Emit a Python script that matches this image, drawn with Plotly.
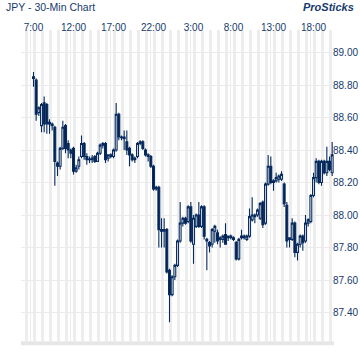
import plotly.graph_objects as go

title_text = "JPY - 30-Min Chart"
brand_text = "ProSticks"

open_ = [88.85, 88.83, 88.63, 88.55, 88.69, 88.68, 88.56, 88.56, 88.54, 88.32,
         88.30, 88.41, 88.55, 88.44, 88.40, 88.41, 88.27, 88.30, 88.36, 88.44,
         88.36, 88.34, 88.34, 88.36, 88.33, 88.38, 88.43, 88.44, 88.35, 88.36,
         88.36, 88.40, 88.62, 88.48, 88.48,
         88.45, 88.41, 88.37, 88.35, 88.36, 88.44, 88.45, 88.40, 88.37, 88.36,
         88.30, 88.17, 88.17, 87.91, 87.90, 87.91, 87.66, 87.51, 87.62, 87.69,
         87.84, 87.95, 87.98, 87.96, 88.05, 87.82, 87.93, 88.00, 87.93, 88.05,
         87.85, 87.83, 87.82, 87.90, 87.89,
         87.85, 87.85, 87.88, 87.86, 87.87, 87.86, 87.83, 87.73, 87.86, 87.87,
         87.85, 87.87, 87.97, 87.99, 88.00, 87.98, 88.08, 87.95, 88.19, 88.30,
         88.20, 88.21, 88.22, 88.22, 88.19, 88.06, 87.85, 87.85, 87.95,
         87.77, 87.82, 87.87, 87.84, 87.95, 87.96, 88.12, 88.23, 88.33, 88.20,
         88.33, 88.26, 88.33, 88.26]
high = [88.88, 88.84, 88.67, 88.69, 88.73, 88.69, 88.59, 88.57, 88.55, 88.33,
        88.42, 88.58, 88.56, 88.46, 88.41, 88.42, 88.31, 88.36, 88.49, 88.45,
        88.38, 88.36, 88.37, 88.37, 88.39, 88.44, 88.45, 88.45, 88.37, 88.38,
        88.41, 88.69, 88.63, 88.49, 88.52,
        88.52, 88.42, 88.38, 88.36, 88.45, 88.46, 88.46, 88.41, 88.38, 88.37,
        88.31, 88.18, 88.18, 87.98, 87.98, 87.92, 87.67, 87.63, 87.70, 87.85,
        88.08, 87.99, 87.99, 88.06, 88.08, 88.00, 88.01, 88.08, 88.06, 88.06,
        87.86, 87.84, 87.92, 87.94, 87.91,
        87.87, 87.88, 87.95, 87.87, 87.88, 87.87, 87.84, 87.86, 87.91, 87.88,
        87.88, 88.04, 88.11, 88.01, 88.04, 88.08, 88.09, 88.20, 88.37, 88.36,
        88.22, 88.26, 88.25, 88.27, 88.20, 88.08, 87.86, 87.98, 87.96,
        87.83, 87.88, 87.88, 88.00, 87.98, 88.13, 88.26, 88.35, 88.34, 88.34,
        88.34, 88.42, 88.36, 88.45]
low = [88.79, 88.58, 88.61, 88.51, 88.51, 88.50, 88.50, 88.52, 88.18, 88.24,
       88.28, 88.40, 88.38, 88.35, 88.35, 88.25, 88.26, 88.28, 88.35, 88.34,
       88.31, 88.32, 88.32, 88.32, 88.33, 88.37, 88.41, 88.32, 88.33, 88.35,
       88.35, 88.39, 88.46, 88.46, 88.40,
       88.37, 88.30, 88.33, 88.32, 88.35, 88.43, 88.40, 88.36, 88.33, 88.29,
       88.15, 88.15, 87.80, 87.80, 87.80, 87.64, 87.34, 87.50, 87.60, 87.68,
       87.83, 87.93, 87.94, 87.95, 87.83, 87.70, 87.92, 87.92, 87.92, 87.85,
       87.66, 87.77, 87.80, 87.83, 87.82,
       87.80, 87.83, 87.83, 87.84, 87.85, 87.84, 87.72, 87.72, 87.85, 87.85,
       87.84, 87.86, 87.96, 87.95, 87.99, 87.97, 87.92, 87.94, 88.18, 88.19,
       88.15, 88.20, 88.20, 88.21, 88.05, 87.80, 87.80, 87.84, 87.74,
       87.72, 87.80, 87.78, 87.83, 87.93, 87.95, 88.11, 88.20, 88.19, 88.18,
       88.25, 88.24, 88.27, 88.24]
close = [88.84, 88.62, 88.66, 88.68, 88.56, 88.56, 88.57, 88.55, 88.33, 88.30,
         88.41, 88.54, 88.41, 88.40, 88.38, 88.27, 88.29, 88.34, 88.44, 88.36,
         88.34, 88.345, 88.35, 88.33, 88.38, 88.43, 88.44, 88.34, 88.37, 88.37,
         88.40, 88.62, 88.48, 88.475, 88.47,
         88.40, 88.37, 88.34, 88.34, 88.44, 88.45, 88.41, 88.37, 88.36, 88.30,
         88.16, 88.16, 87.91, 87.90, 87.91, 87.65, 87.51, 87.62, 87.69, 87.84,
         87.95, 87.98, 87.95, 88.05, 87.84, 87.98, 88.00, 87.93, 88.05, 87.87,
         87.84, 87.81, 87.91, 87.93, 87.84,
         87.86, 87.87, 87.82, 87.87, 87.86, 87.85, 87.73, 87.85, 87.87, 87.86,
         87.87, 87.99, 88.00, 88.00, 88.03, 88.07, 87.94, 88.19, 88.30, 88.20,
         88.21, 88.23, 88.24, 88.25, 88.07, 87.84, 87.86, 87.95, 87.77,
         87.82, 87.87, 87.83, 87.95, 87.97, 88.12, 88.23, 88.33, 88.20, 88.33,
         88.26, 88.33, 88.28, 88.37]

tick_labels = ["7:00", "12:00", "17:00", "22:00", "3:00", "8:00", "13:00", "18:00"]
tick_hours = [0, 5, 10, 15, 20, 25, 30, 35]
price_ticks = [87.40, 87.60, 87.80, 88.00, 88.20, 88.40, 88.60, 88.80, 89.00]

bar_step_hours = 1 / 3
x_hours = [i * bar_step_hours for i in range(len(open_))]

NAVY = "#062a5e"
TEXT = "#163a6c"
STRIPE = "#ededed"
FONT = "Liberation Sans, Arial"

fig = go.Figure(go.Candlestick(
    x=x_hours, open=open_, high=high, low=low, close=close,
    increasing=dict(line=dict(color=NAVY, width=1.1), fillcolor="white"),
    decreasing=dict(line=dict(color=NAVY, width=1.1), fillcolor="#03204a"),
    whiskerwidth=0, showlegend=False, hoverinfo="skip",
))

shapes = []
for h in tick_hours:
    shapes.append(dict(type="line", xref="x", yref="paper", x0=h - 0.375, x1=h - 0.375,
                       y0=0, y1=1, line=dict(color=STRIPE, width=1), layer="below"))
shapes.append(dict(type="line", xref="paper", yref="paper", x0=0, x1=1, y0=-0.004, y1=-0.004,
                   line=dict(color="#e6e6e6", width=4), layer="below"))

fig.update_layout(
    width=360, height=360,
    margin=dict(l=21, r=26, t=30, b=18),
    paper_bgcolor="white", plot_bgcolor="white",
    boxgap=0.0,
    xaxis=dict(range=[-1.5625, 37.5625], side="top", tickmode="array", automargin=False,
               tickvals=tick_hours, ticktext=tick_labels, showgrid=False, zeroline=False,
               showline=False, ticks="", rangeslider=dict(visible=False),
               ticklabelstandoff=-4,
               tickfont=dict(family=FONT, size=10, color=TEXT),
               minor=dict(tickmode="linear", tick0=-0.875, dtick=1, showgrid=True,
                          gridcolor=STRIPE, gridwidth=3)),
    yaxis=dict(range=[87.2185, 89.1385], side="right", tickmode="array", tickvals=price_ticks,
               automargin=False,
               tickformat=".2f", showgrid=True, gridcolor="#ebebeb", gridwidth=1,
               zeroline=False, ticks="", ticklabelstandoff=-2,
               tickfont=dict(family=FONT, size=10, color=TEXT)),
    shapes=shapes,
    annotations=[
        dict(text=title_text, xref="paper", yref="paper",
             x=(4 - 21) / 313, y=(342 - 7) / 312, xanchor="left", yanchor="middle",
             showarrow=False, font=dict(family=FONT, size=10.5, color=TEXT)),
        dict(text="<b><i>" + brand_text + "</i></b>", xref="paper", yref="paper",
             x=(356 - 21) / 313, y=(342 - 7) / 312, xanchor="right", yanchor="middle",
             showarrow=False, font=dict(family=FONT, size=11, color=TEXT)),
    ],
)

fig.write_html("out.html", config={"displayModeBar": False},
               post_script="document.body.style.margin='0';")
